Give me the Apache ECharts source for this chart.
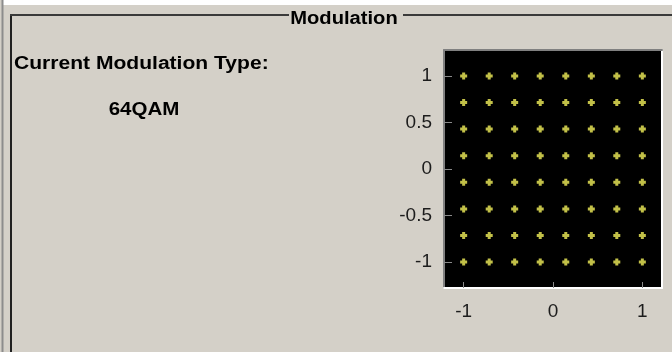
<!DOCTYPE html>
<html>
<head>
<meta charset="utf-8">
<title>Modulation</title>
<script src="https://cdn.jsdelivr.net/npm/echarts@6/dist/echarts.min.js"></script>
<style>
  html, body { margin: 0; padding: 0; background: #d4d0c8; }
  #chart { width: 672px; height: 352px; }
</style>
</head>
<body>
<div id="chart"></div>
<script>
"use strict";

/* ---- data ---- */
const iLevels = [-1, -0.714, -0.429, -0.143, 0.143, 0.429, 0.714, 1];
const qLevels = [-1, -0.714, -0.429, -0.143, 0.143, 0.429, 0.714, 1];
const xTicks  = [-1, 0, 1];
const yTicks  = [-1, -0.5, 0, 0.5, 1];
const panelTitle = "Modulation";
const typeLabel  = "Current Modulation Type:";
const modType    = "64QAM";

// constellation points = every I level paired with every Q level
const points = [];
iLevels.forEach(i => qLevels.forEach(q => points.push([i, q])));

const FONT = "Liberation Sans";
const chart = echarts.init(document.getElementById("chart"), null, { renderer: "canvas" });

const labelStyle = { fontSize: 19, color: "#1c1c1c", fontFamily: FONT };

chart.setOption({
  backgroundColor: "#d4d0c8",
  animation: false,
  grid: {
    left: 444, top: 50, width: 218, height: 238,
    show: true, backgroundColor: "#000", borderWidth: 0
  },
  xAxis: [
    {
      type: "value", position: "bottom", min: -1.22, max: 1.22,
      axisLine: { show: true, onZero: false, lineStyle: { color: "#ffffff", width: 2 } },
      axisTick: { show: true, inside: true, length: 6, customValues: xTicks, lineStyle: { color: "#8a8a8a", width: 1 } },
      axisLabel: Object.assign({ customValues: xTicks, margin: 14 }, labelStyle),
      splitLine: { show: false }
    },
    {
      type: "value", position: "top", min: -1.22, max: 1.22,
      axisLine: { show: true, onZero: false, lineStyle: { color: "#808080", width: 2 } },
      axisTick: { show: false }, axisLabel: { show: false }, splitLine: { show: false }
    }
  ],
  yAxis: [
    {
      type: "value", position: "left", min: -1.28, max: 1.28,
      axisLine: { show: true, onZero: false, lineStyle: { color: "#808080", width: 2 } },
      axisTick: { show: true, inside: true, length: 8, customValues: yTicks, lineStyle: { color: "#8a8a8a", width: 1 } },
      axisLabel: Object.assign({ customValues: yTicks, margin: 12 }, labelStyle),
      splitLine: { show: false }
    },
    {
      type: "value", position: "right", min: -1.28, max: 1.28,
      axisLine: { show: true, onZero: false, lineStyle: { color: "#ffffff", width: 2 } },
      axisTick: { show: false }, axisLabel: { show: false }, splitLine: { show: false }
    }
  ],
  series: [{
    type: "scatter",
    data: points,
    symbol: "path://M-1.5,-3.5 L1.5,-3.5 L1.5,-1.5 L3.5,-1.5 L3.5,1.5 L1.5,1.5 L1.5,3.5 L-1.5,3.5 L-1.5,1.5 L-3.5,1.5 L-3.5,-1.5 L-1.5,-1.5 Z",
    symbolSize: 7,
    itemStyle: { color: "#f2f05a" }
  }],
  graphic: [
    // group box frame
    { type: "rect", shape: { x: 3, y: 0, width: 669, height: 5 }, style: { fill: "#ffffff" }, silent: true },
    { type: "line", shape: { x1: 2.5, y1: 0, x2: 2.5, y2: 352 }, style: { stroke: "#8c8c8c", lineWidth: 2 }, silent: true },
    { type: "line", shape: { x1: 11, y1: 14.5, x2: 11, y2: 352 }, style: { stroke: "#202020", lineWidth: 2 }, silent: true },
    { type: "line", shape: { x1: 10, y1: 15, x2: 289, y2: 15 }, style: { stroke: "#3a3a3a", lineWidth: 2 }, silent: true },
    { type: "line", shape: { x1: 403, y1: 15, x2: 672, y2: 15 }, style: { stroke: "#3a3a3a", lineWidth: 2 }, silent: true },
    {
      type: "text", x: 344, y: 19, scaleX: 1.12,
      style: { text: panelTitle, font: "bold 18px '" + FONT + "'", fill: "#000", textAlign: "center", textVerticalAlign: "middle" }
    },
    {
      type: "text", x: 14, y: 64, scaleX: 1.17,
      style: { text: typeLabel, font: "bold 18px '" + FONT + "'", fill: "#000", textAlign: "left", textVerticalAlign: "middle" }
    },
    {
      type: "text", x: 144, y: 110, scaleX: 1.14,
      style: { text: modType, font: "bold 18px '" + FONT + "'", fill: "#000", textAlign: "center", textVerticalAlign: "middle" }
    }
  ]
});
</script>
</body>
</html>
